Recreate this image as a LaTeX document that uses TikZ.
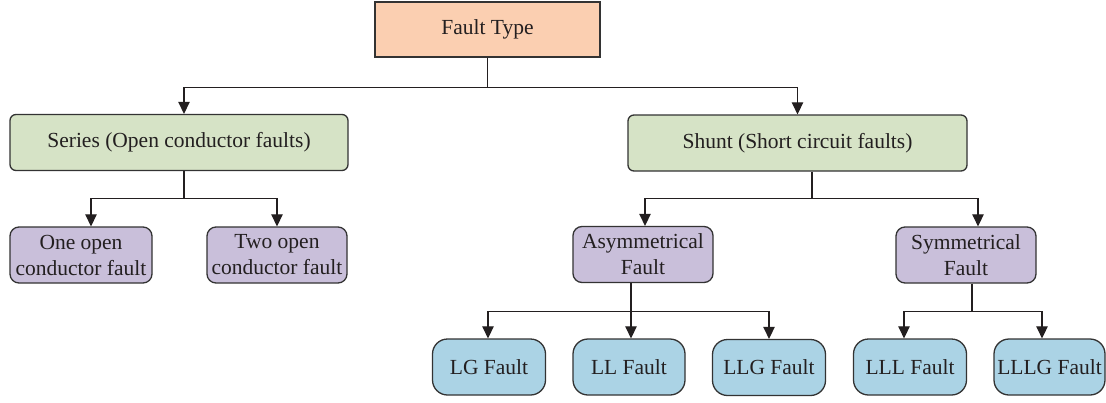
\documentclass[tikz,border=0pt]{standalone}
\usepackage{fontspec}
\setmainfont{Liberation Serif}
\usetikzlibrary{arrows.meta}
\definecolor{peach}{HTML}{FBCFB1}
\definecolor{lgreen}{HTML}{D6E3C6}
\definecolor{lpurple}{HTML}{C9BFDA}
\definecolor{lblue}{HTML}{ABD3E5}
\definecolor{edge}{HTML}{333333}
\definecolor{ink}{HTML}{231F20}
\begin{document}
\begin{tikzpicture}[x=1pt,y=-1pt,
  base/.style={draw=edge,line width=1.3pt,text=ink,inner sep=0pt,align=center,
    font=\fontsize{21.5}{26}\selectfont},
  topbox/.style={base,fill=peach},
  grbox/.style={base,fill=lgreen,rounded corners=6pt,minimum height=56pt},
  pubox/.style={base,fill=lpurple,rounded corners=9pt,minimum height=56pt,minimum width=140pt},
  blbox/.style={base,fill=lblue,rounded corners=15pt,minimum height=56pt,minimum width=113pt},
  link/.style={draw=ink,line width=1.2pt},
  arr/.style={link,-{Triangle[length=12pt,width=11.5pt]}}]
\useasboundingbox (0,0) rectangle (1106,402);
\node[topbox,minimum width=225pt,minimum height=55pt] (ft) at (487.5,29.5) {Fault Type};
\node[grbox,minimum width=338pt] (ser) at (179,142.5) {Series (Open conductor faults)};
\node[grbox,minimum width=339pt] (sh) at (797.5,143) {Shunt (Short circuit faults)};
\node[pubox,minimum width=142pt] (one) at (81,255) {One open\\conductor fault};
\node[pubox] (two) at (277,255) {Two open\\conductor fault};
\node[pubox] (asy) at (643,254.5) {Asymmetrical\\Fault};
\node[pubox] (sym) at (966,255) {Symmetrical\\Fault};
\node[blbox] (lg) at (489,367) {LG Fault};
\node[blbox,minimum width=112pt] (ll) at (629,367) {LL Fault};
\node[blbox] (llg) at (769,367.5) {LLG Fault};
\node[blbox] (lll) at (910,367) {LLL Fault};
\node[blbox,minimum width=111pt] (lllg) at (1049.5,367) {LLLG Fault};
% level 0
\draw[link] (ft.south) -- ++(0,30) coordinate (b0);
\draw[arr] (b0) -| ([xshift=5pt]ser.north);
\draw[arr] (b0) -| (sh.north);
% series
\draw[link] ([xshift=5pt]ser.south) -- ++(0,27) coordinate (b1);
\draw[arr] (b1) -| ([xshift=10pt]one.north);
\draw[arr] (b1) -| (two.north);
% shunt
\draw[link] ([xshift=14.5pt]sh.south) -- ++(0,27) coordinate (b2);
\draw[arr] (b2) -| ([xshift=2pt]asy.north);
\draw[arr] (b2) -| ([xshift=12pt]sym.north);
% asymmetrical
\draw[link] ([xshift=-12pt]asy.south) -- ++(0,28) coordinate (b3);
\draw[arr] (b3) -| ([xshift=-1pt]lg.north);
\draw[arr] (b3) -- (b3 |- ll.north);
\draw[arr] (b3) -| (llg.north);
% symmetrical
\draw[link] ([xshift=6pt]sym.south) -- ++(0,28) coordinate (b4);
\draw[arr] (b4) -| ([xshift=-6pt]lll.north);
\draw[arr] (b4) -| ([xshift=-7.5pt]lllg.north);
\end{tikzpicture}
\end{document}
